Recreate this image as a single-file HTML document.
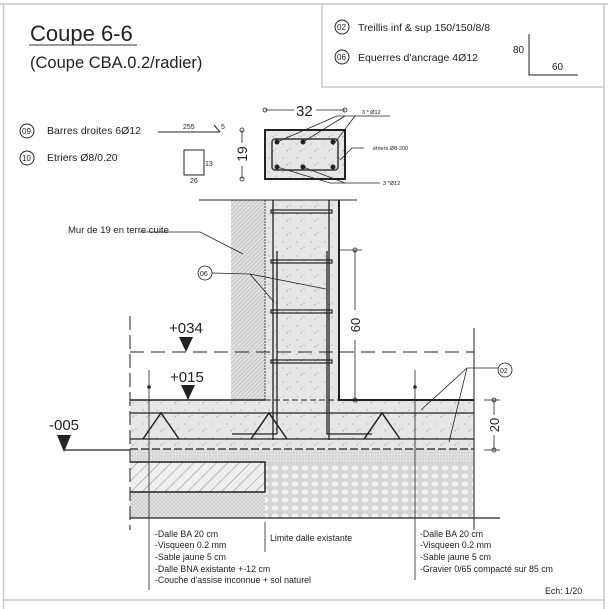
<!DOCTYPE html>
<html><head><meta charset="utf-8"><style>
html,body{margin:0;padding:0;background:#fff}
svg{display:block}
text{font-family:"Liberation Sans",sans-serif;fill:#222}
</style></head><body>
<svg width="608" height="609" viewBox="0 0 608 609" xmlns="http://www.w3.org/2000/svg">
<defs>
<pattern id="conc" width="14" height="14" patternUnits="userSpaceOnUse">
<rect width="14" height="14" fill="#e6e6e6"/>
<circle cx="3" cy="4" r="0.6" fill="#999"/><circle cx="10" cy="9" r="0.6" fill="#aaa"/><path d="M6 11l1.5-1.5 0.5 2z" fill="#aaa"/>
</pattern>
<pattern id="hatch" width="3" height="3" patternUnits="userSpaceOnUse" patternTransform="rotate(45)">
<rect width="3" height="3" fill="#e0e0e0"/><line x1="0" y1="0" x2="0" y2="3" stroke="#aaa" stroke-width="1"/>
</pattern>
<pattern id="hatch2" width="8" height="8" patternUnits="userSpaceOnUse" patternTransform="rotate(45)">
<rect width="8" height="8" fill="#eee"/><line x1="0" y1="0" x2="0" y2="8" stroke="#999" stroke-width="1.2"/>
</pattern>
<pattern id="cross" width="4" height="4" patternUnits="userSpaceOnUse">
<rect width="4" height="4" fill="#e8e8e8"/><path d="M0 0L4 4M4 0L0 4" stroke="#bbb" stroke-width="0.6"/>
</pattern>
<pattern id="sand" width="3" height="3" patternUnits="userSpaceOnUse">
<rect width="3" height="3" fill="#d8d8d8"/><rect x="1" y="1" width="1" height="1" fill="#f4f4f4"/>
</pattern>
<pattern id="grav" width="10" height="8" patternUnits="userSpaceOnUse">
<rect width="10" height="8" fill="#d4d4d4"/><ellipse cx="5" cy="4" rx="3.5" ry="2.5" fill="#f2f2f2"/>
</pattern>
</defs>
<!-- frame -->
<g stroke="#c8c8c8" stroke-width="1.5" fill="none">
<line x1="0" y1="4" x2="608" y2="4"/><line x1="3.5" y1="4" x2="3.5" y2="609"/><line x1="604" y1="4" x2="604" y2="609"/><line x1="3.5" y1="600" x2="604" y2="600"/>
<polyline points="322,4 322,87 604,87"/>
</g>
<text x="30" y="41" font-size="22">Coupe 6-6</text>
<line x1="29" y1="45" x2="137" y2="45" stroke="#333" stroke-width="1"/>
<text x="30" y="68" font-size="16.5">(Coupe CBA.0.2/radier)</text>
<!-- legend -->
<g stroke="#222" fill="none" stroke-width="1"><circle cx="342" cy="27" r="7"/><circle cx="342" cy="57" r="7"/><circle cx="27" cy="131" r="7"/><circle cx="27" cy="158" r="7"/>
<polyline points="529,34 529,75 578,75"/></g>
<g font-size="8"><text x="337" y="30">02</text><text x="337" y="60">06</text><text x="22" y="134">09</text><text x="22" y="161">10</text></g>
<text x="358" y="31" font-size="10.5">Treillis inf  &amp; sup 150/150/8/8</text>
<text x="358" y="61" font-size="10.5">Equerres d'ancrage 4Ø12</text>
<text x="513" y="53" font-size="10">80</text><text x="552" y="70" font-size="10">60</text>
<text x="47" y="134" font-size="10.5">Barres droites 6Ø12</text>
<text x="47" y="161" font-size="10.5">Etriers Ø8/0.20</text>
<g stroke="#222" stroke-width="1" fill="none"><line x1="158" y1="132" x2="220" y2="132"/><line x1="214" y1="125" x2="220" y2="132"/><rect x="184" y="150" width="20" height="25"/></g>
<g font-size="7"><text x="183" y="129">255</text><text x="221" y="129">5</text><text x="205" y="166">13</text><text x="190" y="183">26</text></g>
<!-- beam section -->
<rect x="265" y="130" width="80" height="49" fill="url(#conc)" stroke="#222" stroke-width="2"/>
<rect x="272" y="139" width="66" height="31" rx="3" fill="none" stroke="#333" stroke-width="1.5"/>
<g fill="#222"><circle cx="277" cy="142" r="2.5"/><circle cx="303" cy="142" r="2.5"/><circle cx="333" cy="142" r="2.5"/><circle cx="277" cy="167" r="2.5"/><circle cx="303" cy="167" r="2.5"/><circle cx="333" cy="167" r="2.5"/></g>
<g stroke="#222" stroke-width="0.8" fill="none">
<line x1="265" y1="110" x2="294" y2="110"/><line x1="316" y1="110" x2="345" y2="110"/><circle cx="265" cy="110" r="2"/><circle cx="345" cy="110" r="2"/>
<line x1="242" y1="130" x2="242" y2="143"/><line x1="242" y1="166" x2="242" y2="179"/><circle cx="242" cy="130" r="2"/><circle cx="242" cy="179" r="2"/>
<line x1="337" y1="116" x2="390" y2="116"/><line x1="277" y1="142" x2="337" y2="116"/><line x1="303" y1="142" x2="345" y2="116"/><line x1="333" y1="145" x2="355" y2="116"/>
<polyline points="340,160 352,148 364,148"/>
<line x1="277" y1="167" x2="330" y2="183"/><line x1="303" y1="167" x2="345" y2="183"/><line x1="330" y1="183" x2="380" y2="183"/>
</g>
<text x="296" y="116" font-size="15">32</text>
<text transform="translate(247,154) rotate(-90)" x="0" y="0" font-size="14" text-anchor="middle">19</text>
<g font-size="5.5"><text x="362" y="114">3 * Ø12</text><text x="373" y="150">étriers Ø8-200</text><text x="383" y="185">3 *Ø12</text></g>
<!-- ground layers -->
<rect x="130" y="400" width="344" height="50" fill="url(#conc)"/>
<rect x="130" y="449" width="344" height="13" fill="url(#sand)"/>
<rect x="130" y="462" width="135" height="30" fill="url(#hatch2)"/>
<rect x="130" y="492" width="135" height="26" fill="url(#cross)"/>
<rect x="265" y="462" width="209" height="56" fill="url(#grav)"/>
<polyline points="130,462 265,462 265,492 130,492" fill="none" stroke="#222" stroke-width="1.5"/>
<!-- wall & column -->
<rect x="231" y="200" width="34" height="200" fill="url(#hatch)"/>
<rect x="265" y="200" width="74" height="200" fill="url(#conc)"/>
<g stroke="#222" fill="none">
<line x1="199" y1="200" x2="357" y2="200" stroke-width="1"/>
<line x1="339" y1="200" x2="339" y2="401" stroke-width="2"/>
<line x1="265" y1="200" x2="265" y2="400" stroke-width="0.8" stroke-dasharray="2 1"/>
<line x1="339" y1="400" x2="474" y2="400" stroke-width="2"/>
<line x1="130" y1="400" x2="265" y2="400" stroke-width="1.5"/>
<line x1="265" y1="400" x2="339" y2="400" stroke-width="1" stroke-dasharray="6 3"/>
<g stroke-width="1.3"><line x1="273" y1="200" x2="273" y2="440"/><line x1="329" y1="200" x2="329" y2="440"/><line x1="277" y1="251" x2="277" y2="434"/><polyline points="327,251 327,434 372,434"/><polyline points="277,434 232,434"/></g>
<g stroke-width="1.2"><rect x="271" y="210" width="61" height="3"/><rect x="271" y="260" width="61" height="3"/><rect x="271" y="310" width="61" height="3"/><rect x="271" y="360" width="61" height="3"/></g>
<!-- slab rebars -->
<line x1="130" y1="413" x2="474" y2="413" stroke-width="1.2"/>
<line x1="130" y1="439" x2="474" y2="439" stroke-width="1.2"/>
<line x1="130" y1="449" x2="474" y2="449" stroke-width="1.2" stroke-dasharray="8 3"/>
<line x1="130" y1="518" x2="500" y2="518" stroke-width="1.2"/>
<g stroke-width="1.5"><polyline points="143,439 161,413 179,439"/><polyline points="251,439 269,413 287,439"/><polyline points="364,439 382,413 400,439"/></g>
<!-- dashes -->
<line x1="130" y1="352" x2="474" y2="352" stroke-width="1" stroke-dasharray="14 7"/>
<line x1="130" y1="316" x2="130" y2="530" stroke-width="1" stroke-dasharray="14 5"/>
<line x1="474" y1="328" x2="474" y2="530" stroke-width="1"/>
<line x1="149" y1="370" x2="149" y2="590" stroke-width="0.8"/>
<line x1="415" y1="370" x2="415" y2="580" stroke-width="0.8"/>
<line x1="265" y1="522" x2="265" y2="552" stroke-width="0.8"/>
<line x1="64" y1="450" x2="130" y2="450" stroke-width="1.2"/>
<!-- dims -->
<g stroke-width="0.8"><line x1="340" y1="250" x2="362" y2="250"/><line x1="355" y1="250" x2="355" y2="310"/><line x1="355" y1="340" x2="355" y2="400"/><circle cx="355" cy="250" r="2"/><circle cx="355" cy="400" r="2"/>
<line x1="484" y1="400" x2="500" y2="400"/><line x1="484" y1="450" x2="500" y2="450"/><line x1="494" y1="400" x2="494" y2="415"/><line x1="494" y1="435" x2="494" y2="450"/><circle cx="494" cy="400" r="2"/><circle cx="494" cy="450" r="2"/></g>
<!-- leaders -->
<g stroke-width="0.8"><polyline points="140,232 200,232 243,254"/><circle cx="205" cy="273" r="7"/><polyline points="212,273 250,274 326,289"/><line x1="250" y1="274" x2="274" y2="302"/>
<circle cx="505" cy="370" r="7"/><line x1="467" y1="368" x2="498" y2="368"/><line x1="467" y1="368" x2="421" y2="410"/><line x1="467" y1="368" x2="449" y2="442"/></g>
</g>
<g fill="#222"><circle cx="149" cy="387" r="1.8"/><circle cx="415" cy="387" r="1.8"/>
<polygon points="179,337 193,337 186,352"/><polygon points="181,385 195,385 188,400"/><polygon points="57,435 71,435 64,452"/></g>
<g font-size="7"><text x="200" y="276">06</text><text x="500" y="373">02</text></g>
<text x="68" y="233" font-size="9.5">Mur de 19 en terre cuite</text>
<text x="169" y="333" font-size="15">+034</text>
<text x="170" y="382" font-size="15">+015</text>
<text x="49" y="430" font-size="15">-005</text>
<text transform="translate(360,325) rotate(-90)" font-size="13" text-anchor="middle">60</text>
<text transform="translate(499,425) rotate(-90)" font-size="13" text-anchor="middle">20</text>
<g font-size="8.8"><text x="155" y="537">-Dalle BA 20 cm</text><text x="155" y="548">-Visqueen 0.2 mm</text><text x="155" y="560">-Sable jaune 5 cm</text><text x="155" y="572">-Dalle BNA existante +-12 cm</text><text x="155" y="583">-Couche d'assise inconnue + sol naturel</text>
<text x="270" y="541">Limite dalle existante</text>
<text x="420" y="537">-Dalle BA 20 cm</text><text x="420" y="548">-Visqueen 0.2 mm</text><text x="420" y="560">-Sable jaune 5 cm</text><text x="420" y="572">-Gravier 0/65 compacté sur 85 cm</text>
<text x="545" y="594">Ech: 1/20</text></g>
</svg>
</body></html>
